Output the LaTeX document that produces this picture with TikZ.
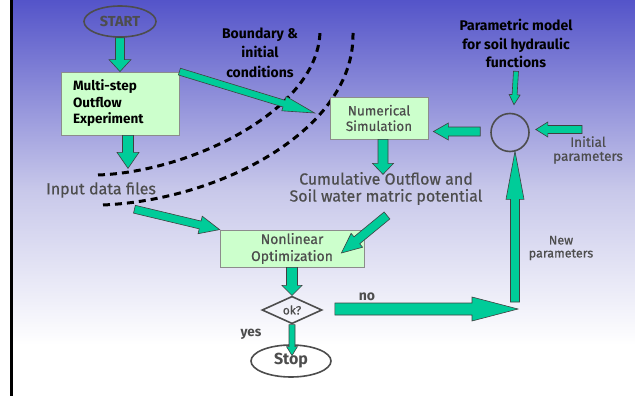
\documentclass[tikz,border=0pt]{standalone}
\usepackage{fontspec}
\setmainfont{Fira Sans}
\newfontfamily\midfont[FakeBold=0.5]{Fira Sans}
\usetikzlibrary{calc,shapes.geometric}
\usepackage{xcolor}
\definecolor{flowgreen}{HTML}{00CC99}
\definecolor{boxgreen}{HTML}{CCFFCC}
\definecolor{inkgray}{HTML}{4D4D4D}
\definecolor{skyblue}{HTML}{5454C9}
\definecolor{midblue}{HTML}{C8C8EA}
\tikzset{
  greenbox/.style={draw=black!45, line width=0.8pt, fill=boxgreen, inner sep=0pt, align=center},
  blacktext/.style={text=black, align=center, font=\bfseries\fontsize{14}{19.5}\selectfont},
  graytext/.style={text=inkgray, align=center, font=\midfont\fontsize{16}{17}\selectfont},
  smalltext/.style={text=inkgray, align=center, font=\midfont\fontsize{12.5}{13}\selectfont},
  outline/.style={draw=inkgray, line width=1.6pt},
  flowarrow/.style={draw=black!75, line width=0.6pt, fill=flowgreen, line join=miter},
  cut/.style={draw=black, line width=3pt, dash pattern=on 7pt off 5pt}
}
% block arrow: start, tip, half shaft, half head, head length
\newcommand{\fatarrow}[5]{%
  \draw[flowarrow] ($#1!#3!90:#2$) -- ($#2!#5!#1!#3!90:#2$) -- ($#2!#5!#1!#4!90:#2$) -- #2
    -- ($#2!#5!#1!#4!-90:#2$) -- ($#2!#5!#1!#3!-90:#2$) -- ($#1!#3!-90:#2$) -- cycle;}

\begin{document}
\begin{tikzpicture}[x=1pt, y=-1pt]
  \useasboundingbox (0,0) rectangle (635,396);
  % background
  \fill[white] (0,0) rectangle (635,396);
  \shade[top color=skyblue, bottom color=midblue] (12,0) rectangle (635,190);
  \shade[top color=midblue, bottom color=white] (12,190) rectangle (635,345);
  \draw[line width=3pt] (11,0) -- (11,396);

  % dashed cut lines
  \draw[cut] (98,175) .. controls (190,172) and (320,110) .. (320,30);
  \draw[cut] (103,205) .. controls (220,200) and (355,130) .. (353,33);

  % nodes
  \node[outline, ellipse, minimum width=72pt, minimum height=31pt, inner sep=0pt,
        text=inkgray, font=\bfseries\fontsize{14.5}{16}\selectfont] (start) at (120,21.5) {START};
  \node[greenbox, minimum width=118pt, minimum height=63pt, text width=94pt, align=left,
        font=\bfseries\fontsize{13.5}{16.5}\selectfont] (exp) at (120,103.5) {Multi-step\\Outflow\\Experiment};
  \node[blacktext] (bound) at (260,52.5) {Boundary \&\\initial\\conditions};
  \node[greenbox, minimum width=98pt, minimum height=42pt, text=inkgray,
        font=\midfont\fontsize{13.5}{15.5}\selectfont] (numsim) at (379,118) {Numerical\\Simulation};
  \node[blacktext, font=\bfseries\fontsize{14}{18.5}\selectfont] (param) at (516,43.5) {Parametric model\\for soil hydraulic\\functions};
  \node[outline, circle, minimum size=38pt, inner sep=0pt] (hub) at (510,132.5) {};
  \node[smalltext, font=\midfont\fontsize{13.5}{14}\selectfont] (init) at (588,150) {Initial\\parameters};
  \node[graytext] (cum) at (386,188.5) {Cumulative Outflow and\\Soil water matric potential};
  \node[graytext] (input) at (101,190) {Input data files};
  \node[greenbox, minimum width=144pt, minimum height=37pt, text=inkgray,
        font=\midfont\fontsize{14}{17}\selectfont] (nonlin) at (292,248.5) {Nonlinear\\Optimization};
  \node[smalltext] (newpar) at (561,248) {New\\parameters};
  \node[outline, diamond, minimum width=60pt, minimum height=19pt, inner sep=0pt,
        text=inkgray, font=\midfont\fontsize{12}{13}\selectfont] (ok) at (292,310) {ok?};
  \node[smalltext, font=\bfseries\fontsize{13.5}{15}\selectfont] (yes) at (251,334) {yes};
  \node[smalltext, font=\bfseries\fontsize{14}{15}\selectfont] (no) at (367,297) {no};
  \node[outline, ellipse, minimum width=80pt, minimum height=32pt, inner sep=0pt,
        text=inkgray, font=\bfseries\fontsize{16}{18}\selectfont] (stop) at (291,361) {Stop};

  % connector ends
  \coordinate (expout) at ($(exp.south)+(8,0)$);
  \coordinate (expend) at ($(exp.south)+(8,33)$);
  \coordinate (numin) at ($(numsim.west)+(-15,-5)$);
  \coordinate (numout) at ($(numsim.south)+(4,0)$);
  \coordinate (numend) at ($(numsim.south)+(4,35)$);
  \coordinate (inputout) at ($(input.south east)+(-25,8)$);
  \coordinate (cumout) at ($(cum.south)+(1,7)$);
  \coordinate (nonlinin) at ($(nonlin.east)+(-23,4.5)$);
  \coordinate (stopin) at ($(ok.south)+(0,31)$);
  \coordinate (noin) at ($(ok.east)+(12,-1)$);
  \coordinate (turn) at (518,309);
  \coordinate (upin) at (515,302);
  \coordinate (hubbottom) at ($(hub.south)+(5,-1)$);
  \coordinate (hubtop) at ($(hub.north)+(4,-8)$);
  \coordinate (initin) at (582,129.5);
  \coordinate (hubright) at ($(hub.east)+(6,-3)$);
  \coordinate (hubleft) at ($(hub.west)+(-10,-1)$);
  \coordinate (numright) at ($(numsim.east)+(5,13.5)$);

  % block arrows
  \fatarrow{(start.south)}{(exp.north)}{4.5pt}{11pt}{12pt}
  \fatarrow{(expout)}{(expend)}{5.5pt}{11pt}{16pt}
  \fatarrow{(exp.north east)}{(numin)}{3.5pt}{7.5pt}{32pt}
  \fatarrow{(numout)}{(numend)}{5pt}{10.5pt}{11pt}
  \fatarrow{(inputout)}{(nonlin.north west)}{4pt}{9pt}{20pt}
  \fatarrow{(cumout)}{(nonlinin)}{4.5pt}{9pt}{20pt}
  \fatarrow{(nonlin.south)}{(ok.north)}{5.5pt}{10pt}{10pt}
  \fatarrow{(ok.south)}{(stopin)}{3pt}{5.5pt}{9pt}
  \fatarrow{(noin)}{(turn)}{6pt}{12pt}{46pt}
  \fatarrow{(upin)}{(hubbottom)}{4.5pt}{9pt}{48pt}
  \fatarrow{(param.south)}{(hubtop)}{2.5pt}{5.5pt}{10pt}
  \fatarrow{(initin)}{(hubright)}{4pt}{7.5pt}{12pt}
  \fatarrow{(hubleft)}{(numright)}{4.5pt}{8.5pt}{15pt}
\end{tikzpicture}
\end{document}
